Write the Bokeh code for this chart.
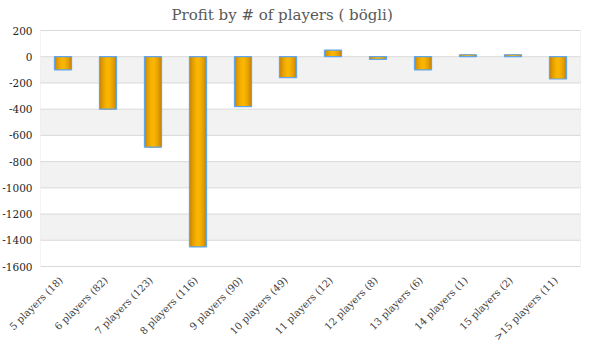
from bokeh.plotting import figure
from bokeh.models import Range1d, BoxAnnotation
from bokeh.core.properties import value
from bokeh.embed import file_html
from bokeh.resources import INLINE
import math

categories = ["5 players (18)", "6 players (82)", "7 players (123)", "8 players (116)",
              "9 players (90)", "10 players (49)", "11 players (12)", "12 players (8)",
              "13 players (6)", "14 players (1)", "15 players (2)", ">15 players (11)"]
profit = [-100, -400, -690, -1450, -380, -160, 50, -20, -100, 15, 15, -170]
y_ticks = [200, 0, -200, -400, -600, -800, -1000, -1200, -1400, -1600]
title_text = "Profit by # of players  ( bögli)"

SERIF = "DejaVu Serif"

# ---- layout (pixels on the canvas) ----
W, H = 584, 344
PLOT_L, PLOT_R, PLOT_T, PLOT_B = 40, 580, 30, 266
n = len(categories)
px_per_cat = (PLOT_R - PLOT_L) / n
y_hi, y_lo = max(y_ticks), min(y_ticks)
units_per_px = (y_hi - y_lo) / (PLOT_B - PLOT_T)

x_start = -0.5 - PLOT_L / px_per_cat
x_end = (n - 0.5) + (W - PLOT_R) / px_per_cat
y_top = y_hi + PLOT_T * units_per_px
y_bot = y_lo - (H - PLOT_B) * units_per_px

p = figure(width=W, height=H, x_range=Range1d(x_start, x_end), y_range=Range1d(y_bot, y_top),
           output_backend="svg", toolbar_location=None, min_border=0)
p.xaxis.visible = False
p.yaxis.visible = False
p.grid.visible = False
p.outline_line_color = None
p.background_fill_color = "white"
p.border_fill_color = "white"

idx = list(range(n))
left_edge, right_edge = -0.5, n - 0.5

# alternating gray bands: 0..-200, -400..-600, ...
for i in range(1, len(y_ticks) - 1, 2):
    p.add_layout(BoxAnnotation(left=left_edge, right=right_edge, top=y_ticks[i], bottom=y_ticks[i + 1],
                               fill_color="#f2f2f2", fill_alpha=1.0, line_color=None, level="underlay"))

# horizontal grid lines
p.segment(x0=[left_edge] * len(y_ticks), x1=[right_edge] * len(y_ticks), y0=y_ticks, y1=y_ticks,
          line_color="#d9d9d9", line_width=1)

# plot-area border
p.add_layout(BoxAnnotation(left=left_edge, right=right_edge, top=y_hi, bottom=y_lo,
                           fill_alpha=0, line_color="#d9d9d9", line_width=1))

# gradient-like fill via layered bars
layers = [(0.38, "#cf8800"), (0.32, "#da9300"), (0.26, "#e49d00"),
          (0.20, "#eda800"), (0.14, "#f3af00"), (0.08, "#f8b504")]
for w, c in layers:
    p.vbar(x=idx, top=profit, bottom=0, width=w, fill_color=c, line_color=None)
p.vbar(x=idx, top=profit, bottom=0, width=0.38, fill_alpha=0,
       line_color="#5fa6ea", line_width=1.2)

# y tick labels
p.text(x=[left_edge] * len(y_ticks), y=y_ticks, text=[str(t) for t in y_ticks],
       x_offset=-8, text_align="right", text_baseline="middle",
       text_font=value(SERIF), text_font_size=value("10.5px"), text_color="#262626")

# category labels, rotated 45 degrees
p.text(x=idx, y=[y_lo] * n, text=categories, angle=math.pi / 4,
       x_offset=-2, y_offset=12, text_align="right", text_baseline="middle",
       text_font=value(SERIF), text_font_size=value("10px"), text_color="#404040")

# title
p.text(x=[(x_start + x_end) / 2 - 8 / px_per_cat], y=[y_hi], text=[title_text], y_offset=-16,
       text_align="center", text_baseline="middle",
       text_font=value(SERIF), text_font_size=value("15px"), text_color="#595959")

open("out.html", "w").write(file_html(p, INLINE))
